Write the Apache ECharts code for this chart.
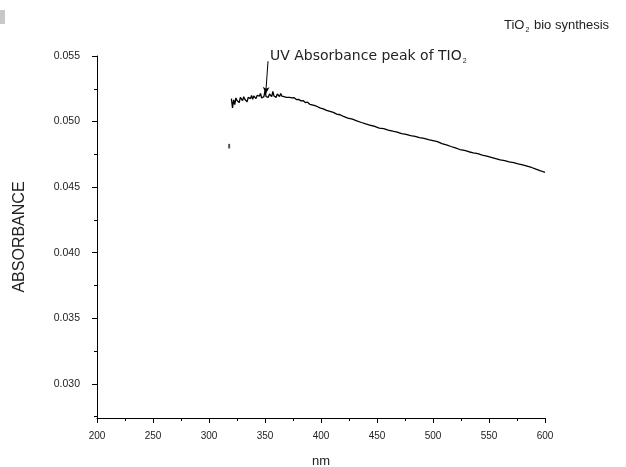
<!DOCTYPE html>
<html>
<head>
<meta charset="utf-8">
<script src="https://cdn.jsdelivr.net/npm/echarts@6/dist/echarts.min.js"></script>
<style>html,body{margin:0;padding:0;background:#fff}#c{width:626px;height:467px}</style>
</head>
<body>
<div id="c"></div>
<script>
const wavelength = [320,321,322,323,324,325,326,327,328,329,330,331,332,333,334,335,336,337,338,339,340,341,342,343,344,345,346,347,348,349,350,351,352,353,354,355,356,357,358,359,360,361,362,363,364,365,366,367,368,369,370,372,374,376,378,380,382,384,386,388,390,393,396,399,402,405,408,411,414,417,420,424,428,432,436,440,444,448,452,456,460,464,468,472,476,480,484,488,492,496,500,504,508,512,516,520,524,528,532,536,540,544,548,552,556,560,564,568,572,576,580,584,588,592,596,600];
const absorbance = [0.05175,0.05105,0.05165,0.05130,0.05180,0.05160,0.05170,0.05145,0.05185,0.05175,0.05160,0.05190,0.05170,0.05180,0.05150,0.05185,0.05190,0.05175,0.05200,0.05170,0.05195,0.05190,0.05175,0.05200,0.05185,0.05195,0.05215,0.05180,0.05195,0.05190,0.05235,0.05190,0.05200,0.05185,0.05210,0.05200,0.05190,0.05230,0.05195,0.05205,0.05185,0.05210,0.05200,0.05190,0.05215,0.05195,0.05205,0.05190,0.05200,0.05185,0.05195,0.05185,0.05180,0.05182,0.05168,0.05170,0.05158,0.05160,0.05145,0.05148,0.05132,0.05125,0.05117,0.05105,0.05097,0.05085,0.05078,0.05070,0.05057,0.05052,0.05040,0.05027,0.05018,0.05005,0.04993,0.04982,0.04972,0.04963,0.04950,0.04946,0.04935,0.04927,0.04920,0.04908,0.04902,0.04893,0.04887,0.04878,0.04872,0.04863,0.04855,0.04847,0.04832,0.04822,0.04810,0.04800,0.04787,0.04780,0.04770,0.04762,0.04755,0.04745,0.04737,0.04728,0.04718,0.04708,0.04702,0.04693,0.04687,0.04678,0.04670,0.04660,0.04650,0.04637,0.04625,0.04612];
const strayWavelength = [318, 318];
const strayAbsorbance = [0.04830, 0.04795];
const yMajorTicks = [0.030, 0.035, 0.040, 0.045, 0.050, 0.055];
const yMinorTicks = [0.0275, 0.0325, 0.0375, 0.0425, 0.0475, 0.0525];
const peakArrow = [[354.5, 0.0553], [352.7, 0.0546], [350.6, 0.0521]];

const font = '"Liberation Sans", Arial, sans-serif';
const wideFont = '"DejaVu Sans", "Liberation Sans", sans-serif';
const chart = echarts.init(document.getElementById('c'), null, {renderer: 'canvas'});
const mainData = wavelength.map((w, i) => [w, absorbance[i]]);
const strayData = strayWavelength.map((w, i) => [w, strayAbsorbance[i]]);

chart.setOption({
  animation: false,
  backgroundColor: '#fff',
  grid: {left: 97, right: 81, top: 56, bottom: 49, containLabel: false, outerBoundsMode: 'none'},
  xAxis: {
    type: 'value', min: 200, max: 600, interval: 50,
    name: 'nm', nameLocation: 'middle', nameGap: 37,
    nameTextStyle: {fontFamily: font, fontSize: 13, color: '#222'},
    axisLine: {show: true, lineStyle: {color: '#000', width: 1}},
    axisTick: {show: true, length: 5, inside: false, lineStyle: {color: '#000'}},
    minorTick: {show: true, splitNumber: 2, length: 3, lineStyle: {color: '#000'}},
    axisLabel: {fontFamily: font, fontSize: 10, color: '#222', margin: 13},
    splitLine: {show: false}
  },
  yAxis: [{
    type: 'value', min: 0.0274, max: 0.055,
    name: 'ABSORBANCE', nameLocation: 'middle', nameRotate: 90, nameGap: 69,
    nameTextStyle: {fontFamily: font, fontSize: 16, color: '#222'},
    axisLine: {show: true, onZero: false, lineStyle: {color: '#000', width: 1}},
    axisTick: {show: true, length: 5, customValues: yMajorTicks, lineStyle: {color: '#000'}},
    axisLabel: {fontFamily: font, fontSize: 10.5, color: '#222', margin: 17,
      customValues: yMajorTicks, formatter: v => v.toFixed(3)},
    splitLine: {show: false}
  }, {
    type: 'value', min: 0.0274, max: 0.055, position: 'left',
    axisLine: {show: false},
    axisTick: {show: true, length: 3, customValues: yMinorTicks, lineStyle: {color: '#000'}},
    axisLabel: {show: false, customValues: yMinorTicks},
    splitLine: {show: false}
  }],
  series: [{
    type: 'line', data: mainData, showSymbol: false, clip: false,
    lineStyle: {color: '#000', width: 1.3}, yAxisIndex: 0,
    markLine: {
      silent: true, symbol: ['none', 'none'],
      lineStyle: {color: '#000', width: 1, type: 'solid'},
      label: {show: false},
      data: [[{coord: peakArrow[0]}, {coord: peakArrow[1]}]]
    }
  }, {
    type: 'line', data: [], showSymbol: false, clip: false,
    markLine: {
      silent: true, symbol: ['none', 'arrow'], symbolSize: [5, 7],
      lineStyle: {color: '#000', width: 1, type: 'solid'},
      itemStyle: {color: '#000'},
      label: {show: false},
      data: [[{coord: peakArrow[1]}, {coord: peakArrow[2]}]]
    }
  }, {
    type: 'line', data: strayData, showSymbol: false,
    lineStyle: {color: '#555', width: 2}
  }],
  graphic: [
    {type: 'rect', left: 0, top: 10, shape: {width: 5, height: 14}, style: {fill: '#c8c8c8'}},
    {type: 'text', left: 504, top: 19, style: {
      text: 'TiO{s|2} bio synthesis', fontFamily: font, fontSize: 13, fill: '#222',
      rich: {s: {fontSize: 7, padding: [10, 1, 0, 1], fontFamily: font, fill: '#222'}}
    }},
    {type: 'text', left: 270, top: 49, style: {
      text: 'UV Absorbance peak of TIO{s|2}', fontFamily: wideFont, fontSize: 14, fill: '#222',
      rich: {s: {fontSize: 7, padding: [11, 1, 0, 1], fontFamily: font, fill: '#222'}}
    }}
  ]
});
</script>
</body>
</html>
